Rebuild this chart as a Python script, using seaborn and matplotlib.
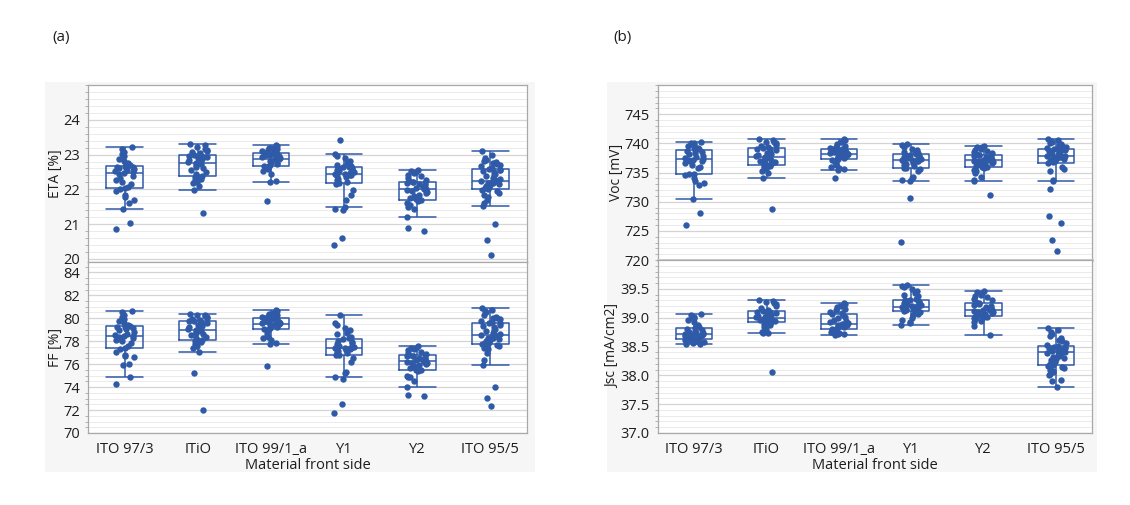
import matplotlib
matplotlib.use("Agg")
import matplotlib.pyplot as plt
import numpy as np
import pandas as pd
import seaborn as sns
from matplotlib.patches import Rectangle
from matplotlib.ticker import FormatStrFormatter, MultipleLocator

GROUPS = ["ITO 97/3", "ITiO", "ITO 99/1_a", "Y1", "Y2", "ITO 95/5"]

# ETA [%]
eta_ito973 = [20.85, 21.03, 21.42, 21.62, 21.70, 21.78, 21.85, 21.95, 22.01, 22.03, 22.08, 22.15,
              22.22, 22.28, 22.33, 22.38, 22.43, 22.47, 22.49, 22.52, 22.55, 22.58, 22.60, 22.62,
              22.64, 22.65, 22.66, 22.70, 22.75, 22.82, 22.88, 22.95, 23.02, 23.08, 23.15, 23.22]
eta_itio = [21.32, 21.99, 22.10, 22.18, 22.22, 22.27, 22.31, 22.35, 22.37, 22.39, 22.43, 22.50,
            22.56, 22.60, 22.65, 22.69, 22.72, 22.75, 22.77, 22.80, 22.84, 22.87, 22.90, 22.92,
            22.94, 22.96, 22.97, 23.00, 23.04, 23.07, 23.10, 23.13, 23.17, 23.22, 23.28, 23.31]
eta_ito991 = [21.65, 22.22, 22.24, 22.45, 22.52, 22.58, 22.61, 22.64, 22.66, 22.68, 22.71, 22.74,
              22.77, 22.80, 22.82, 22.84, 22.86, 22.87, 22.89, 22.91, 22.93, 22.96, 22.98, 23.00,
              23.02, 23.03, 23.04, 23.07, 23.10, 23.13, 23.15, 23.18, 23.20, 23.23, 23.26, 23.28]
eta_y1 = [20.40, 20.60, 21.41, 21.44, 21.50, 21.70, 21.85, 21.98, 22.15, 22.18, 22.22, 22.27,
          22.31, 22.35, 22.38, 22.40, 22.42, 22.43, 22.45, 22.48, 22.51, 22.54, 22.57, 22.59,
          22.60, 22.62, 22.63, 22.64, 22.67, 22.70, 22.75, 22.82, 22.90, 22.96, 23.01, 23.43]
eta_y2 = [20.80, 20.88, 21.19, 21.42, 21.50, 21.56, 21.61, 21.65, 21.69, 21.71, 21.75, 21.80,
          21.85, 21.89, 21.92, 21.95, 21.98, 22.00, 22.02, 22.05, 22.08, 22.11, 22.14, 22.17,
          22.19, 22.20, 22.21, 22.24, 22.28, 22.32, 22.37, 22.42, 22.46, 22.50, 22.54, 22.56]
eta_ito955 = [20.12, 20.55, 21.00, 21.53, 21.60, 21.70, 21.78, 21.84, 21.90, 21.95, 21.98, 22.00,
              22.03, 22.06, 22.09, 22.12, 22.15, 22.17, 22.19, 22.21, 22.23, 22.24, 22.26, 22.29,
              22.33, 22.37, 22.41, 22.45, 22.49, 22.52, 22.55, 22.57, 22.58, 22.62, 22.66, 22.70,
              22.74, 22.77, 22.79, 22.81, 22.84, 22.90, 23.00, 23.09]

# FF [%]
ff_ito973 = [74.30, 74.88, 75.95, 76.05, 76.60, 76.70, 76.80, 77.10, 77.35, 77.38, 77.60, 77.85,
             78.00, 78.10, 78.20, 78.30, 78.40, 78.45, 78.49, 78.55, 78.65, 78.80, 78.95, 79.05,
             79.15, 79.22, 79.27, 79.32, 79.45, 79.60, 79.75, 79.90, 80.10, 80.30, 80.55, 80.65]
ff_itio = [72.00, 75.25, 77.05, 77.45, 77.60, 77.75, 77.90, 78.00, 78.10, 78.13, 78.25, 78.40,
           78.50, 78.60, 78.72, 78.82, 78.92, 78.97, 79.01, 79.10, 79.20, 79.30, 79.40, 79.50,
           79.60, 79.70, 79.75, 79.80, 79.88, 79.95, 80.02, 80.10, 80.18, 80.25, 80.32, 80.38]
ff_ito991 = [75.85, 77.75, 77.80, 78.10, 78.25, 78.40, 78.60, 78.85, 79.05, 79.10, 79.18, 79.25,
             79.30, 79.36, 79.40, 79.44, 79.48, 79.50, 79.52, 79.56, 79.62, 79.70, 79.78, 79.85,
             79.92, 79.96, 79.99, 80.03, 80.10, 80.18, 80.25, 80.35, 80.45, 80.55, 80.62, 80.70]
ff_y1 = [71.70, 72.50, 74.70, 74.88, 75.20, 75.30, 76.20, 76.50, 76.78, 76.83, 76.95, 77.05,
         77.15, 77.22, 77.28, 77.33, 77.37, 77.39, 77.41, 77.45, 77.52, 77.62, 77.75, 77.85,
         77.95, 78.05, 78.20, 78.30, 78.40, 78.60, 78.75, 78.95, 79.15, 79.45, 79.60, 80.26]
ff_y2 = [73.22, 73.28, 73.99, 74.50, 74.85, 74.90, 74.95, 75.40, 75.50, 75.53, 75.70, 75.85,
         75.95, 76.02, 76.08, 76.14, 76.19, 76.22, 76.26, 76.32, 76.40, 76.48, 76.55, 76.62,
         76.68, 76.72, 76.75, 76.80, 76.90, 77.00, 77.10, 77.20, 77.30, 77.38, 77.45, 77.54]
ff_ito955 = [72.35, 73.05, 74.00, 75.92, 76.40, 77.00, 77.30, 77.40, 77.55, 77.65, 77.72, 77.76,
             77.85, 77.95, 78.05, 78.10, 78.18, 78.25, 78.32, 78.40, 78.47, 78.51, 78.55, 78.65,
             78.75, 78.85, 78.95, 79.05, 79.20, 79.35, 79.45, 79.55, 79.60, 79.68, 79.80, 79.90,
             80.00, 80.05, 80.10, 80.30, 80.50, 80.60, 80.75, 80.87]

# Voc [mV]
voc_ito973 = [726.0, 728.0, 730.5, 732.8, 733.2, 733.6, 734.0, 734.5, 734.7, 734.8, 735.8, 736.0,
              736.3, 736.7, 736.9, 737.0, 737.1, 737.2, 737.35, 737.5, 737.7, 737.9, 738.1, 738.3,
              738.5, 738.7, 738.85, 739.0, 739.2, 739.4, 739.6, 739.8, 739.9, 740.0, 740.1, 740.2]
voc_itio = [728.7, 734.1, 735.0, 735.2, 735.6, 735.9, 736.1, 736.25, 736.3, 736.38, 736.6, 736.8,
            737.0, 737.2, 737.35, 737.5, 737.6, 737.65, 737.72, 737.85, 738.0, 738.2, 738.4, 738.6,
            738.8, 738.95, 739.1, 739.2, 739.4, 739.6, 739.8, 740.0, 740.2, 740.3, 740.5, 740.7]
voc_ito991 = [734.1, 735.5, 735.6, 735.8, 736.0, 736.3, 736.8, 737.0, 737.2, 737.25, 737.4, 737.55,
              737.7, 737.8, 737.9, 738.0, 738.08, 738.12, 738.18, 738.25, 738.35, 738.45, 738.55, 738.65,
              738.8, 738.9, 738.95, 739.0, 739.2, 739.4, 739.6, 739.9, 740.2, 740.4, 740.6, 740.7]
voc_y1 = [723.1, 730.6, 733.6, 733.8, 734.1, 734.3, 735.2, 735.6, 735.8, 735.85, 736.1, 736.3,
          736.5, 736.7, 736.85, 736.95, 737.05, 737.08, 737.12, 737.2, 737.35, 737.5, 737.65, 737.8,
          737.9, 738.0, 738.08, 738.12, 738.3, 738.5, 738.7, 738.9, 739.1, 739.4, 739.7, 739.85]
voc_y2 = [731.1, 733.6, 733.7, 734.3, 735.0, 735.3, 735.5, 735.7, 735.9, 735.97, 736.2, 736.4,
          736.55, 736.7, 736.8, 736.9, 737.0, 737.07, 737.13, 737.2, 737.3, 737.45, 737.6, 737.75,
          737.9, 738.0, 738.05, 738.15, 738.3, 738.5, 738.7, 738.9, 739.1, 739.3, 739.45, 739.55]
voc_ito955 = [721.6, 723.5, 726.3, 727.5, 732.2, 733.6, 733.8, 735.2, 735.6, 736.0, 736.6, 736.73,
              736.9, 737.0, 737.15, 737.3, 737.4, 737.5, 737.6, 737.68, 737.74, 737.78, 737.82, 737.9,
              738.0, 738.15, 738.3, 738.45, 738.6, 738.75, 738.9, 739.0, 739.05, 739.12, 739.25, 739.4,
              739.55, 739.7, 739.85, 740.0, 740.2, 740.4, 740.55, 740.7]

# Jsc [mA/cm2]
jsc_ito973 = [38.54, 38.55, 38.56, 38.57, 38.58, 38.59, 38.60, 38.61, 38.62, 38.635, 38.645, 38.66,
              38.67, 38.68, 38.69, 38.70, 38.70, 38.705, 38.715, 38.72, 38.73, 38.74, 38.75, 38.77,
              38.79, 38.81, 38.825, 38.84, 38.88, 38.92, 38.96, 38.99, 39.00, 39.02, 39.05, 39.06]
jsc_itio = [38.06, 38.73, 38.74, 38.76, 38.80, 38.84, 38.87, 38.89, 38.91, 38.925, 38.94, 38.95,
            38.96, 38.97, 38.98, 38.99, 38.995, 39.00, 39.005, 39.01, 39.03, 39.04, 39.06, 39.07,
            39.08, 39.09, 39.105, 39.12, 39.14, 39.17, 39.20, 39.23, 39.25, 39.27, 39.29, 39.30]
jsc_ito991 = [38.70, 38.71, 38.72, 38.74, 38.75, 38.77, 38.78, 38.79, 38.80, 38.815, 38.83, 38.84,
              38.85, 38.86, 38.87, 38.875, 38.88, 38.885, 38.895, 38.90, 38.92, 38.94, 38.96, 38.99,
              39.02, 39.05, 39.065, 39.08, 39.10, 39.13, 39.15, 39.18, 39.20, 39.22, 39.24, 39.25]
jsc_y1 = [38.88, 38.90, 38.93, 38.96, 39.00, 39.04, 39.07, 39.09, 39.11, 39.125, 39.13, 39.14,
          39.15, 39.16, 39.17, 39.175, 39.18, 39.185, 39.195, 39.20, 39.22, 39.23, 39.25, 39.27,
          39.28, 39.30, 39.305, 39.32, 39.37, 39.40, 39.43, 39.46, 39.50, 39.53, 39.55, 39.57]
jsc_y2 = [38.70, 38.86, 38.92, 38.95, 38.97, 38.99, 39.00, 39.01, 39.015, 39.025, 39.04, 39.05,
          39.07, 39.08, 39.09, 39.10, 39.11, 39.125, 39.135, 39.14, 39.15, 39.16, 39.18, 39.20,
          39.22, 39.24, 39.255, 39.27, 39.30, 39.33, 39.35, 39.37, 39.40, 39.42, 39.44, 39.46]
jsc_ito955 = [37.79, 37.90, 37.92, 38.00, 38.03, 38.06, 38.08, 38.10, 38.12, 38.14, 38.16, 38.175,
              38.20, 38.23, 38.26, 38.28, 38.30, 38.32, 38.34, 38.36, 38.38, 38.395, 38.405, 38.41,
              38.42, 38.43, 38.44, 38.45, 38.46, 38.47, 38.48, 38.49, 38.50, 38.51, 38.53, 38.56,
              38.59, 38.62, 38.65, 38.68, 38.72, 38.75, 38.79, 38.82]

BLUE = "#2f5aa8"
GRID_MAJOR = "#d4d4d4"
GRID_MINOR = "#ebebeb"
SPINE = "#a8a8a8"
TEXT = "#1e1e1e"


def long_frame(lists, column):
    rows = []
    for group, values in zip(GROUPS, lists):
        rows.extend({"group": group, column: v} for v in values)
    return pd.DataFrame(rows)


def draw_metric(ax, df, column, ylim, major, minor, fmt):
    np.random.seed(7)
    sns.boxplot(data=df, x="group", y=column, order=GROUPS, ax=ax, width=0.5,
                fill=False, color=BLUE, linewidth=1.1, showfliers=False,
                whis=1.5, capwidths=0.5)
    sns.stripplot(data=df, x="group", y=column, order=GROUPS, ax=ax, jitter=0.14,
                  size=4.6, color=BLUE, linewidth=0, zorder=3)
    ax.set_ylim(*ylim)
    ax.set_xlim(-0.5, len(GROUPS) - 0.5)
    ax.yaxis.set_major_locator(MultipleLocator(major))
    ax.yaxis.set_minor_locator(MultipleLocator(minor))
    if fmt:
        ax.yaxis.set_major_formatter(FormatStrFormatter(fmt))
    ax.set_facecolor("white")
    ax.set_axisbelow(True)
    ax.grid(which="major", axis="y", color=GRID_MAJOR, linewidth=0.9)
    ax.grid(which="minor", axis="y", color=GRID_MINOR, linewidth=0.7)
    ax.tick_params(axis="y", which="major", length=4, color=SPINE, labelsize=10.5,
                   labelcolor=TEXT, pad=2)
    ax.tick_params(axis="y", which="minor", length=2, color=SPINE, left=True)
    for s in ax.spines.values():
        s.set_color(SPINE)
        s.set_linewidth(0.9)
    ax.set_xlabel("")
    ax.set_ylabel(column, fontsize=10, color=TEXT, labelpad=0)


sns.set_style("white")
plt.rcParams["font.family"] = ["Open Sans", "DejaVu Sans"]

eta_df = long_frame([eta_ito973, eta_itio, eta_ito991, eta_y1, eta_y2, eta_ito955], "ETA [%]")
ff_df = long_frame([ff_ito973, ff_itio, ff_ito991, ff_y1, ff_y2, ff_ito955], "FF [%]")
voc_df = long_frame([voc_ito973, voc_itio, voc_ito991, voc_y1, voc_y2, voc_ito955], "Voc [mV]")
jsc_df = long_frame([jsc_ito973, jsc_itio, jsc_ito991, jsc_y1, jsc_y2, jsc_ito955], "Jsc [mA/cm2]")

W, H = 1130, 505
fig = plt.figure(figsize=(W / 100, H / 100), dpi=100)
fig.patch.set_facecolor("white")


def box(x0, y0, x1, y1):
    # pixel box (top-left origin) to figure fraction rect
    return [x0 / W, 1 - y1 / H, (x1 - x0) / W, (y1 - y0) / H]


for x0 in (45, 607):
    fig.patches.append(Rectangle((x0 / W, 1 - 472 / H), 490 / W, 390 / H,
                                 transform=fig.transFigure, facecolor="#f6f6f6",
                                 edgecolor="none", zorder=-10))

ax_eta = fig.add_axes(box(88, 85, 527, 262))
ax_ff = fig.add_axes(box(88, 262, 527, 433), sharex=ax_eta)
ax_voc = fig.add_axes(box(658, 85, 1092, 260))
ax_jsc = fig.add_axes(box(658, 260, 1092, 433), sharex=ax_voc)

draw_metric(ax_eta, eta_df, "ETA [%]", (19.91, 25.0), 1, 0.2, None)
draw_metric(ax_ff, ff_df, "FF [%]", (70, 84.9), 2, 0.5, None)
draw_metric(ax_voc, voc_df, "Voc [mV]", (720, 750), 5, 1, None)
draw_metric(ax_jsc, jsc_df, "Jsc [mA/cm2]", (37.0, 40.0), 0.5, 0.1, "%.1f")

ax_eta.set_yticks([20, 21, 22, 23, 24])
ax_ff.set_yticks([70, 72, 74, 76, 78, 80, 82, 84])
ax_voc.set_yticks([720, 725, 730, 735, 740, 745])
ax_jsc.set_yticks([37.0, 37.5, 38.0, 38.5, 39.0, 39.5])

for ax in (ax_eta, ax_voc):
    ax.tick_params(axis="x", bottom=False, labelbottom=False)
ax_voc.spines["bottom"].set_color("#c8c8c8")
ax_voc.spines["bottom"].set_linewidth(2.0)

for ax in (ax_ff, ax_jsc):
    ax.tick_params(axis="x", bottom=False, labelsize=10.5, labelcolor=TEXT, pad=3)
    ax.set_xlabel("Material front side", fontsize=10.5, color=TEXT, labelpad=1)

fig.text(61 / W, 1 - 38 / H, "(a)", ha="center", va="center", fontsize=11, color=TEXT)
fig.text(622 / W, 1 - 38 / H, "(b)", ha="center", va="center", fontsize=11, color=TEXT)

fig.savefig("out.png", dpi=100)
